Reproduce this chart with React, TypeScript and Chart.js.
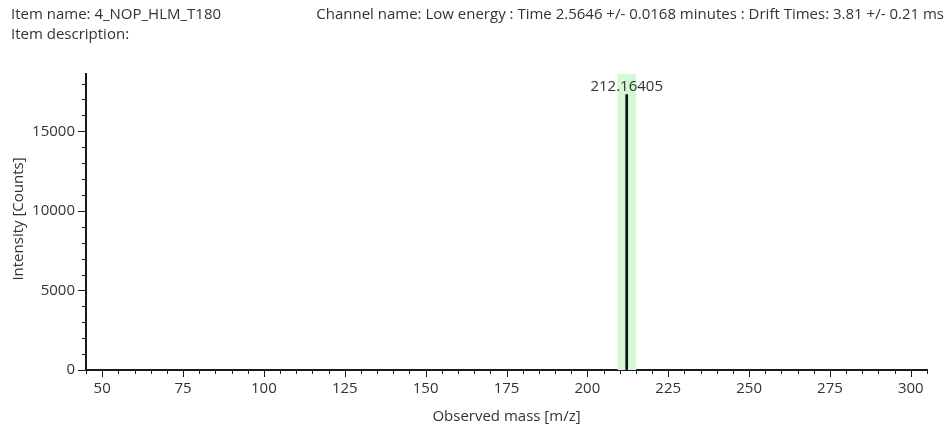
import React, { useEffect, useRef } from "react";
import { Chart, registerables } from "chart.js";

Chart.register(...registerables);

// Spectrum data
const peakMasses = [212.16405];
const peakIntensities = [17300];
const peakLabels = ["212.16405"];

// Highlighted extraction window (m/z)
const highlightWindow = [209.3, 215.1];

// Axis ranges and ticks
const massRange = [45, 305];
const intensityRange = [0, 18600];
const massTicks = [50, 75, 100, 125, 150, 175, 200, 225, 250, 275, 300];
const intensityTicks = [0, 5000, 10000, 15000];
const massMinorStep = 5;
const intensityMinorStep = 1000;

// Header texts
const itemName = "Item name: 4_NOP_HLM_T180";
const itemDescription = "Item description:";
const channelInfo =
  "Channel name: Low energy : Time 2.5646 +/- 0.0168 minutes : Drift Times: 3.81 +/- 0.21 ms";
const xTitle = "Observed mass [m/z]";
const yTitle = "Intensity [Counts]";

const FONT_FAMILY = "'Open Sans', 'Noto Sans', sans-serif";
const FONT_SIZE = 15;
const TEXT_COLOR = "#333333";
const AXIS_COLOR = "#1a1a1a";

const highlightPlugin = {
  id: "highlightWindow",
  beforeDatasetsDraw(chart: any) {
    const { ctx, chartArea, scales } = chart;
    const x0 = scales.x.getPixelForValue(highlightWindow[0]);
    const x1 = scales.x.getPixelForValue(highlightWindow[1]);
    ctx.save();
    ctx.fillStyle = "#d3f8d3";
    ctx.fillRect(x0, chartArea.top, x1 - x0, chartArea.bottom - chartArea.top);
    ctx.restore();
  },
};

const peakLabelPlugin = {
  id: "peakLabels",
  afterDatasetsDraw(chart: any) {
    const { ctx, scales } = chart;
    ctx.save();
    ctx.font = `${FONT_SIZE}px ${FONT_FAMILY}`;
    ctx.fillStyle = TEXT_COLOR;
    ctx.textAlign = "center";
    ctx.textBaseline = "bottom";
    peakMasses.forEach((m, i) => {
      const px = scales.x.getPixelForValue(m);
      const py = scales.y.getPixelForValue(peakIntensities[i]);
      ctx.fillText(peakLabels[i], px, py);
    });
    ctx.restore();
  },
};

const tickMarksPlugin = {
  id: "tickMarks",
  afterDraw(chart: any) {
    const { ctx, chartArea, scales } = chart;
    ctx.save();
    ctx.strokeStyle = AXIS_COLOR;
    ctx.lineWidth = 1;
    // x ticks: majors at labelled values, minors in between
    const xs = scales.x;
    for (let v = Math.ceil(massRange[0] / massMinorStep) * massMinorStep; v <= massRange[1] + 1e-9; v += massMinorStep) {
      const major = massTicks.includes(v);
      const px = Math.round(xs.getPixelForValue(v)) + 0.5;
      ctx.beginPath();
      ctx.moveTo(px, chartArea.bottom);
      ctx.lineTo(px, chartArea.bottom + (major ? 7 : 4));
      ctx.stroke();
    }
    // y ticks
    const ys = scales.y;
    for (let v = intensityRange[0]; v <= intensityRange[1] + 1e-9; v += intensityMinorStep) {
      const major = intensityTicks.includes(v);
      const py = Math.round(ys.getPixelForValue(v)) + 0.5;
      ctx.beginPath();
      ctx.moveTo(chartArea.left, py);
      ctx.lineTo(chartArea.left - (major ? 8 : 4), py);
      ctx.stroke();
    }
    ctx.restore();
  },
};

const textPlugin = {
  id: "headerAndTitles",
  afterDraw(chart: any) {
    const { ctx, chartArea, width } = chart;
    ctx.save();
    ctx.font = `${FONT_SIZE}px ${FONT_FAMILY}`;
    ctx.fillStyle = TEXT_COLOR;
    ctx.textBaseline = "alphabetic";
    ctx.textAlign = "left";
    ctx.fillText(itemName, 11, 19);
    ctx.fillText(itemDescription, 11, 39);
    ctx.textAlign = "right";
    ctx.fillText(channelInfo, width - 8, 19);
    ctx.textAlign = "center";
    ctx.fillText(xTitle, (chartArea.left + chartArea.right) / 2, 421);
    ctx.translate(23, 219);
    ctx.rotate(-Math.PI / 2);
    ctx.fillText(yTitle, 0, 0);
    ctx.restore();
  },
};

export default function App() {
  const canvasRef = useRef<HTMLCanvasElement | null>(null);

  useEffect(() => {
    if (!canvasRef.current) return;
    const chart = new Chart(canvasRef.current, {
      type: "bar",
      data: {
        datasets: [
          {
            data: peakMasses.map((m, i) => ({ x: m, y: peakIntensities[i] })),
            backgroundColor: "#111111",
            barThickness: 2,
          },
        ],
      },
      options: {
        animation: false,
        responsive: false,
        events: [],
        layout: { padding: { left: 0, top: 74, right: 25, bottom: 0 } },
        plugins: {
          legend: { display: false },
          tooltip: { enabled: false },
          title: { display: false },
        },
        scales: {
          x: {
            type: "linear",
            min: massRange[0],
            max: massRange[1],
            offset: false,
            grid: { display: false, drawTicks: false },
            border: { display: true, color: AXIS_COLOR, width: 2 },
            ticks: {
              color: TEXT_COLOR,
              font: { family: FONT_FAMILY, size: FONT_SIZE },
              padding: 10,
              maxRotation: 0,
              autoSkip: false,
              callback: (v: any) => String(v),
            },
            afterBuildTicks: (s: any) => {
              s.ticks = massTicks.map((v) => ({ value: v }));
            },
            afterFit: (s: any) => {
              s.height = 57;
            },
          },
          y: {
            type: "linear",
            min: intensityRange[0],
            max: intensityRange[1],
            grid: { display: false, drawTicks: false },
            border: { display: true, color: AXIS_COLOR, width: 2 },
            ticks: {
              color: TEXT_COLOR,
              font: { family: FONT_FAMILY, size: FONT_SIZE },
              padding: 11,
              autoSkip: false,
              callback: (v: any) => String(v),
            },
            afterBuildTicks: (s: any) => {
              s.ticks = intensityTicks.map((v) => ({ value: v }));
            },
            afterFit: (s: any) => {
              s.width = 86;
            },
          },
        },
      },
      plugins: [highlightPlugin, peakLabelPlugin, tickMarksPlugin, textPlugin],
    });
    return () => chart.destroy();
  }, []);

  return (
    <div style={{ position: "absolute", left: 0, top: 0, width: 952, height: 427, background: "#ffffff" }}>
      <canvas ref={canvasRef} width={952} height={427} style={{ width: 952, height: 427 }} />
    </div>
  );
}
